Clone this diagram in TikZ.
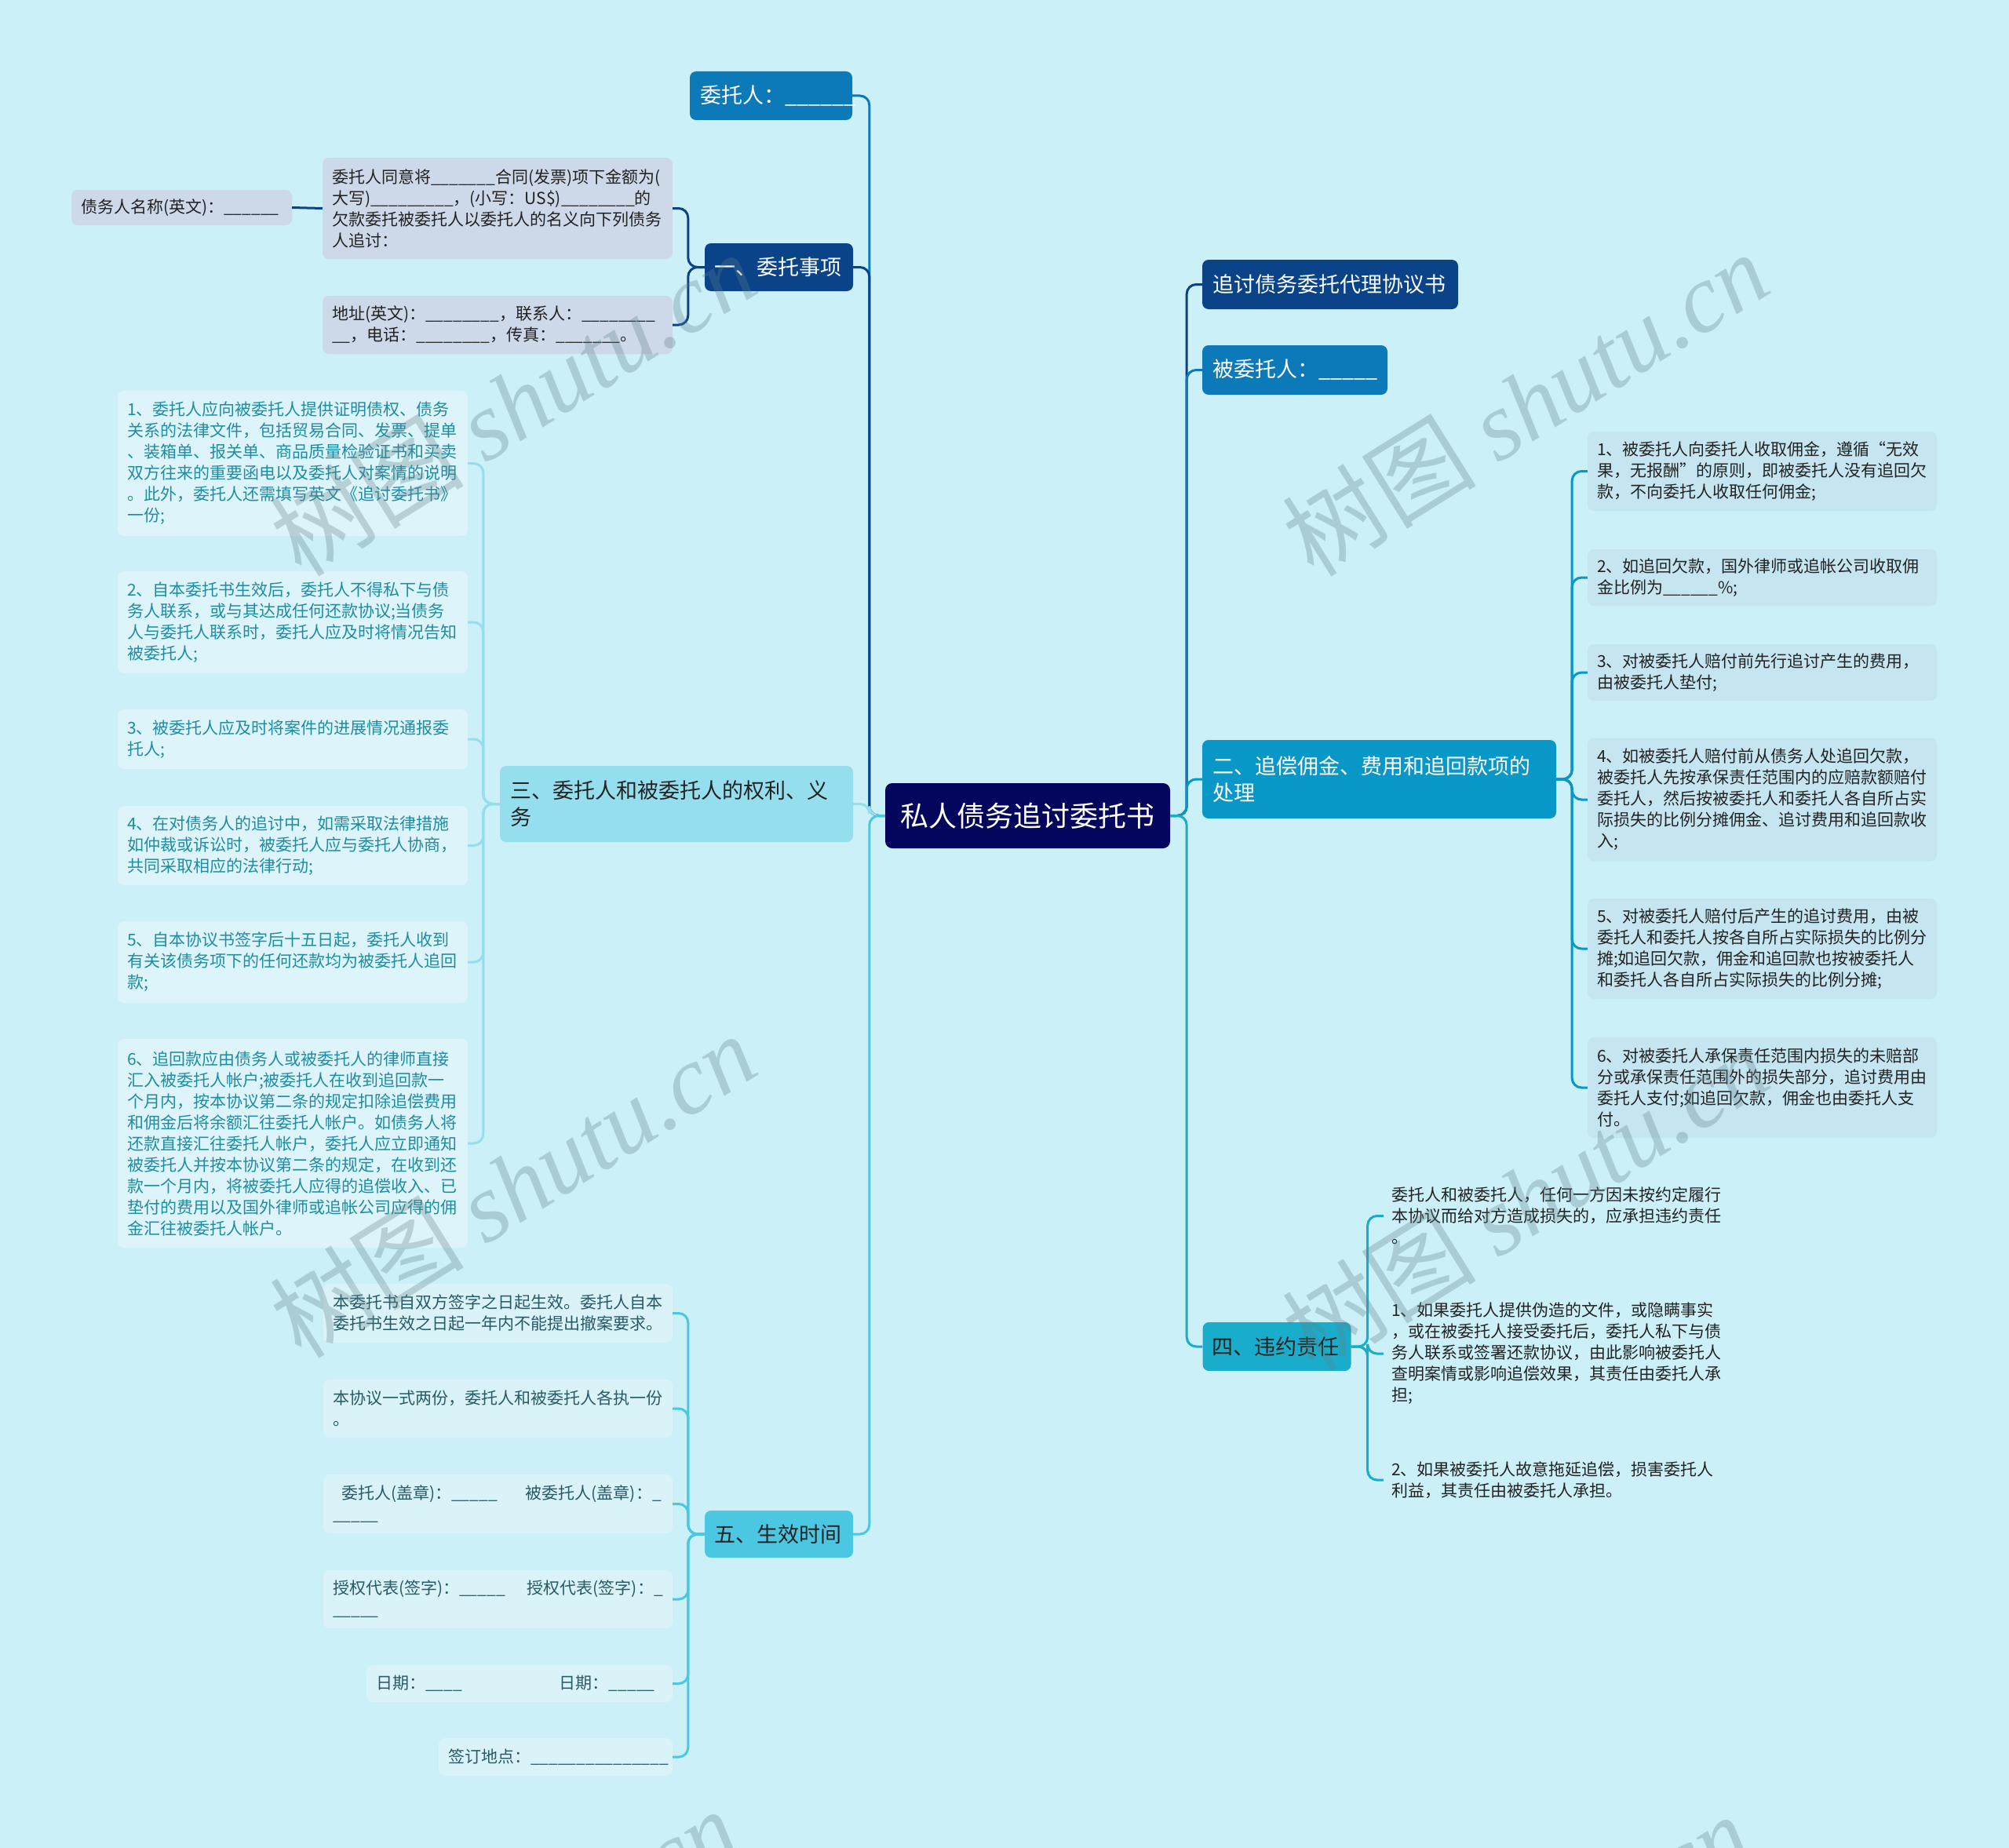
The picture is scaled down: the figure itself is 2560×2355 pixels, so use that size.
\documentclass[tikz,border=0pt]{standalone}
\usepackage{fontspec}
\setmainfont{Noto Sans CJK SC}
\newfontfamily\wmlatin{Liberation Serif}
\definecolor{bg}{HTML}{CBF0F8}
\definecolor{rootc}{HTML}{03065C}
\definecolor{darkblue}{HTML}{0B4389}
\definecolor{medblue}{HTML}{0C79B9}
\definecolor{sectwo}{HTML}{0997C7}
\definecolor{secfour}{HTML}{1AADCB}
\definecolor{secthree}{HTML}{95DEEE}
\definecolor{secfive}{HTML}{4BC7E2}
\definecolor{greyc}{HTML}{CDD8E9}
\definecolor{leafthree}{HTML}{DDF4FA}
\definecolor{leaffive}{HTML}{DAF3F9}
\definecolor{leaftwo}{HTML}{C5E6F1}
\definecolor{txtthree}{HTML}{1E8CA2}
\definecolor{txtfive}{HTML}{285A66}
\definecolor{txtdark}{HTML}{222222}
\definecolor{wmark}{HTML}{5E7F86}
\tikzset{
  rootbox/.style={fill=rootc, text=white, rounded corners=9pt, inner xsep=13pt, inner ysep=3pt, align=center, font=\fontsize{36}{44}\selectfont},
  secbox/.style={rounded corners=8pt, inner xsep=13pt, inner ysep=3pt, align=left, font=\fontsize{27}{34}\selectfont},
  leafbox/.style={rounded corners=8pt, inner xsep=12pt, inner ysep=3pt, align=left, font=\fontsize{21}{27}\selectfont},
  conn/.style={line width=3pt, rounded corners=12pt},
  wm/.style={rotate=32, text=wmark, text opacity=0.3, font=\fontsize{124}{124}\selectfont, inner sep=0pt}
}
\begin{document}
\begin{tikzpicture}[x=1pt,y=-1pt]
\fill[bg] (0,0) rectangle (2560,2355);
\path[use as bounding box] (0,0) rectangle (2560,2355);

% root
\node[rootbox, text width=337pt, minimum height=83pt] (root) at (1309.5,1039.5) {私人债务追讨委托书};

% ---------- left side ----------
\node[secbox, fill=medblue, text=white, text width=181pt, minimum height=62pt] (wtr) at (982.5,122) {委托人：\_\_\_\_\_\_};
\node[secbox, fill=darkblue, text=white, text width=165pt, inner xsep=12pt, minimum height=61pt] (s1) at (992.5,340.5) {一、委托事项};
\node[leafbox, fill=greyc, text=txtdark, text width=422pt, minimum height=129pt] (s1a) at (634,265.5) {委托人同意将\_\_\_\_\_\_\_合同(发票)项下金额为(\\大写)\_\_\_\_\_\_\_\_\_，(小写：US\$)\_\_\_\_\_\_\_\_的\\欠款委托被委托人以委托人的名义向下列债务\\人追讨：};
\node[leafbox, fill=greyc, text=txtdark, text width=257pt, minimum height=45pt] (s1a1) at (231.5,264.5) {债务人名称(英文)：\_\_\_\_\_\_};
\node[leafbox, fill=greyc, text=txtdark, text width=422pt, minimum height=74pt] (s1b) at (634,414) {地址(英文)：\_\_\_\_\_\_\_\_，联系人：\_\_\_\_\_\_\_\_\\\_\_，电话：\_\_\_\_\_\_\_\_，传真：\_\_\_\_\_\_\_。};

\node[secbox, fill=secthree, text=txtdark, text width=424pt, minimum height=97pt] (s3) at (862,1024.5) {三、委托人和被委托人的权利、义\\务};
\node[leafbox, fill=leafthree, text=txtthree, text width=422pt, minimum height=185pt] (s3a) at (373,590.5) {1、委托人应向被委托人提供证明债权、债务\\关系的法律文件，包括贸易合同、发票、提单\\、装箱单、报关单、商品质量检验证书和买卖\\双方往来的重要函电以及委托人对案情的说明\\。此外，委托人还需填写英文《追讨委托书》\\一份;};
\node[leafbox, fill=leafthree, text=txtthree, text width=422pt, minimum height=130pt] (s3b) at (373,793) {2、自本委托书生效后，委托人不得私下与债\\务人联系，或与其达成任何还款协议;当债务\\人与委托人联系时，委托人应及时将情况告知\\被委托人;};
\node[leafbox, fill=leafthree, text=txtthree, text width=422pt, minimum height=76pt] (s3c) at (373,942) {3、被委托人应及时将案件的进展情况通报委\\托人;};
\node[leafbox, fill=leafthree, text=txtthree, text width=422pt, minimum height=101pt] (s3d) at (373,1077.5) {4、在对债务人的追讨中，如需采取法律措施\\如仲裁或诉讼时，被委托人应与委托人协商，\\共同采取相应的法律行动;};
\node[leafbox, fill=leafthree, text=txtthree, text width=422pt, minimum height=104pt] (s3e) at (373,1226) {5、自本协议书签字后十五日起，委托人收到\\有关该债务项下的任何还款均为被委托人追回\\款;};
\node[leafbox, fill=leafthree, text=txtthree, text width=422pt, minimum height=266pt] (s3f) at (373,1457) {6、追回款应由债务人或被委托人的律师直接\\汇入被委托人帐户;被委托人在收到追回款一\\个月内，按本协议第二条的规定扣除追偿费用\\和佣金后将余额汇往委托人帐户。如债务人将\\还款直接汇往委托人帐户，委托人应立即通知\\被委托人并按本协议第二条的规定，在收到还\\款一个月内，将被委托人应得的追偿收入、已\\垫付的费用以及国外律师或追帐公司应得的佣\\金汇往被委托人帐户。};

\node[secbox, fill=secfive, text=txtdark, text width=165pt, inner xsep=12pt, minimum height=60pt] (s5) at (992.5,1955) {五、生效时间};
\node[leafbox, fill=leaffive, text=txtfive, text width=421pt, minimum height=75pt] (s5a) at (634.5,1673.5) {本委托书自双方签字之日起生效。委托人自本\\委托书生效之日起一年内不能提出撤案要求。};
\node[leafbox, fill=leaffive, text=txtfive, text width=421pt, minimum height=74pt] (s5b) at (634.5,1795) {本协议一式两份，委托人和被委托人各执一份\\。};
\node[leafbox, fill=leaffive, text=txtfive, text width=421pt, minimum height=75pt] (s5c) at (634.5,1916.5) {\mbox{\hspace*{11pt}委托人(盖章)：\_\_\_\_\_\hspace{36pt}被委托人(盖章)：\_}\\\_\_\_\_\_};
\node[leafbox, fill=leaffive, text=txtfive, text width=421pt, minimum height=74pt] (s5d) at (634.5,2038) {\mbox{授权代表(签字)：\_\_\_\_\_\hspace{28pt}授权代表(签字)：\_}\\\_\_\_\_\_};
\node[leafbox, fill=leaffive, text=txtfive, text width=366pt, minimum height=47pt] (s5e) at (662,2145.5) {\mbox{日期：\_\_\_\_\hspace{124pt}日期：\_\_\_\_\_}};
\node[leafbox, fill=leaffive, text=txtfive, text width=274pt, minimum height=48pt] (s5f) at (708,2239) {\mbox{签订地点：\_\_\_\_\_\_\_\_\_\_\_\_\_\_\_}};

% ---------- right side ----------
\node[secbox, fill=darkblue, text=white, text width=300pt, minimum height=63pt] (r1) at (1695,362.5) {追讨债务委托代理协议书};
\node[secbox, fill=medblue, text=white, text width=210pt, minimum height=63pt] (r2) at (1650,471.5) {被委托人：\_\_\_\_\_};
\node[secbox, fill=sectwo, text=white, text width=425pt, minimum height=100pt] (s2) at (1757.5,993) {二、追偿佣金、费用和追回款项的\\处理};
\node[leafbox, fill=leaftwo, text=txtdark, text width=421pt, minimum height=101pt] (s2a) at (2245.5,600.5) {1、被委托人向委托人收取佣金，遵循“无效\\果，无报酬”的原则，即被委托人没有追回欠\\款，不向委托人收取任何佣金;};
\node[leafbox, fill=leaftwo, text=txtdark, text width=421pt, minimum height=72pt] (s2b) at (2245.5,736) {2、如追回欠款，国外律师或追帐公司收取佣\\金比例为\_\_\_\_\_\_\%;};
\node[leafbox, fill=leaftwo, text=txtdark, text width=421pt, minimum height=72pt] (s2c) at (2245.5,857) {3、对被委托人赔付前先行追讨产生的费用，\\由被委托人垫付;};
\node[leafbox, fill=leaftwo, text=txtdark, text width=421pt, minimum height=157pt] (s2d) at (2245.5,1019) {4、如被委托人赔付前从债务人处追回欠款，\\被委托人先按承保责任范围内的应赔款额赔付\\委托人，然后按被委托人和委托人各自所占实\\际损失的比例分摊佣金、追讨费用和追回款收\\入;};
\node[leafbox, fill=leaftwo, text=txtdark, text width=421pt, minimum height=128pt] (s2e) at (2245.5,1209) {5、对被委托人赔付后产生的追讨费用，由被\\委托人和委托人按各自所占实际损失的比例分\\摊;如追回欠款，佣金和追回款也按被委托人\\和委托人各自所占实际损失的比例分摊;};
\node[leafbox, fill=leaftwo, text=txtdark, text width=421pt, minimum height=128pt] (s2f) at (2245.5,1386) {6、对被委托人承保责任范围内损失的未赔部\\分或承保责任范围外的损失部分，追讨费用由\\委托人支付;如追回欠款，佣金也由委托人支\\付。};

\node[secbox, fill=secfour, text=txtdark, text width=165pt, inner xsep=12pt, minimum height=62pt] (s4) at (1627,1716) {四、违约责任};
\node[leafbox, text=txtdark, text width=430pt, inner xsep=10pt, minimum height=80pt] (s4a) at (1988,1549.5) {委托人和被委托人，任何一方因未按约定履行\\本协议而给对方造成损失的，应承担违约责任\\。};
\node[leafbox, text=txtdark, text width=430pt, inner xsep=10pt, minimum height=135pt] (s4b) at (1988,1725) {1、如果委托人提供伪造的文件，或隐瞒事实\\，或在被委托人接受委托后，委托人私下与债\\务人联系或签署还款协议，由此影响被委托人\\查明案情或影响追偿效果，其责任由委托人承\\担;};
\node[leafbox, text=txtdark, text width=430pt, inner xsep=10pt, minimum height=60pt] (s4c) at (1988,1886) {2、如果被委托人故意拖延追偿，损害委托人\\利益，其责任由被委托人承担。};

% ---------- connectors ----------
\draw[conn, medblue] (root.west) -- ++(-20,0) |- (wtr.east);
\draw[conn, darkblue] (root.west) -- ++(-20,0) |- (s1.east);
\draw[conn, secthree] (root.west) -- ++(-20,0) |- (s3.east);
\draw[conn, secfive] (root.west) -- ++(-20,0) |- (s5.east);
\draw[conn, darkblue] (root.east) -- ++(21,0) |- (r1.west);
\draw[conn, medblue] (root.east) -- ++(21,0) |- (r2.west);
\draw[conn, sectwo] (root.east) -- ++(21,0) |- (s2.west);
\draw[conn, secfour] (root.east) -- ++(21,0) |- (s4.west);

\foreach \c in {s1a,s1b} \draw[conn, darkblue] (s1.west) -- ++(-21,0) |- (\c.east);
\draw[conn, darkblue] (s1a.west) -- (s1a1.east);
\foreach \c in {s3a,s3b,s3c,s3d,s3e,s3f} \draw[conn, secthree] (s3.west) -- ++(-21,0) |- (\c.east);
\foreach \c in {s5a,s5b,s5c,s5d,s5e,s5f} \draw[conn, secfive] (s5.west) -- ++(-21,0) |- (\c.east);
\foreach \c in {s2a,s2b,s2c,s2d,s2e,s2f} \draw[conn, sectwo] (s2.east) -- ++(20,0) |- (\c.west);
\foreach \c in {s4a,s4b,s4c} \draw[conn, secfour] (s4.east) -- ++(21,0) |- (\c.west);

% ---------- watermarks ----------
\begin{scope}
\clip (0,0) rectangle (2560,2355);
\foreach \p/\q in {653/514, 1943/514, 653/1510, 1943/1527, 630/2498, 1920/2505}
  \node[wm] at (\p,\q) {树图 {\wmlatin\itshape shutu.cn}};
\end{scope}
\end{tikzpicture}
\end{document}
